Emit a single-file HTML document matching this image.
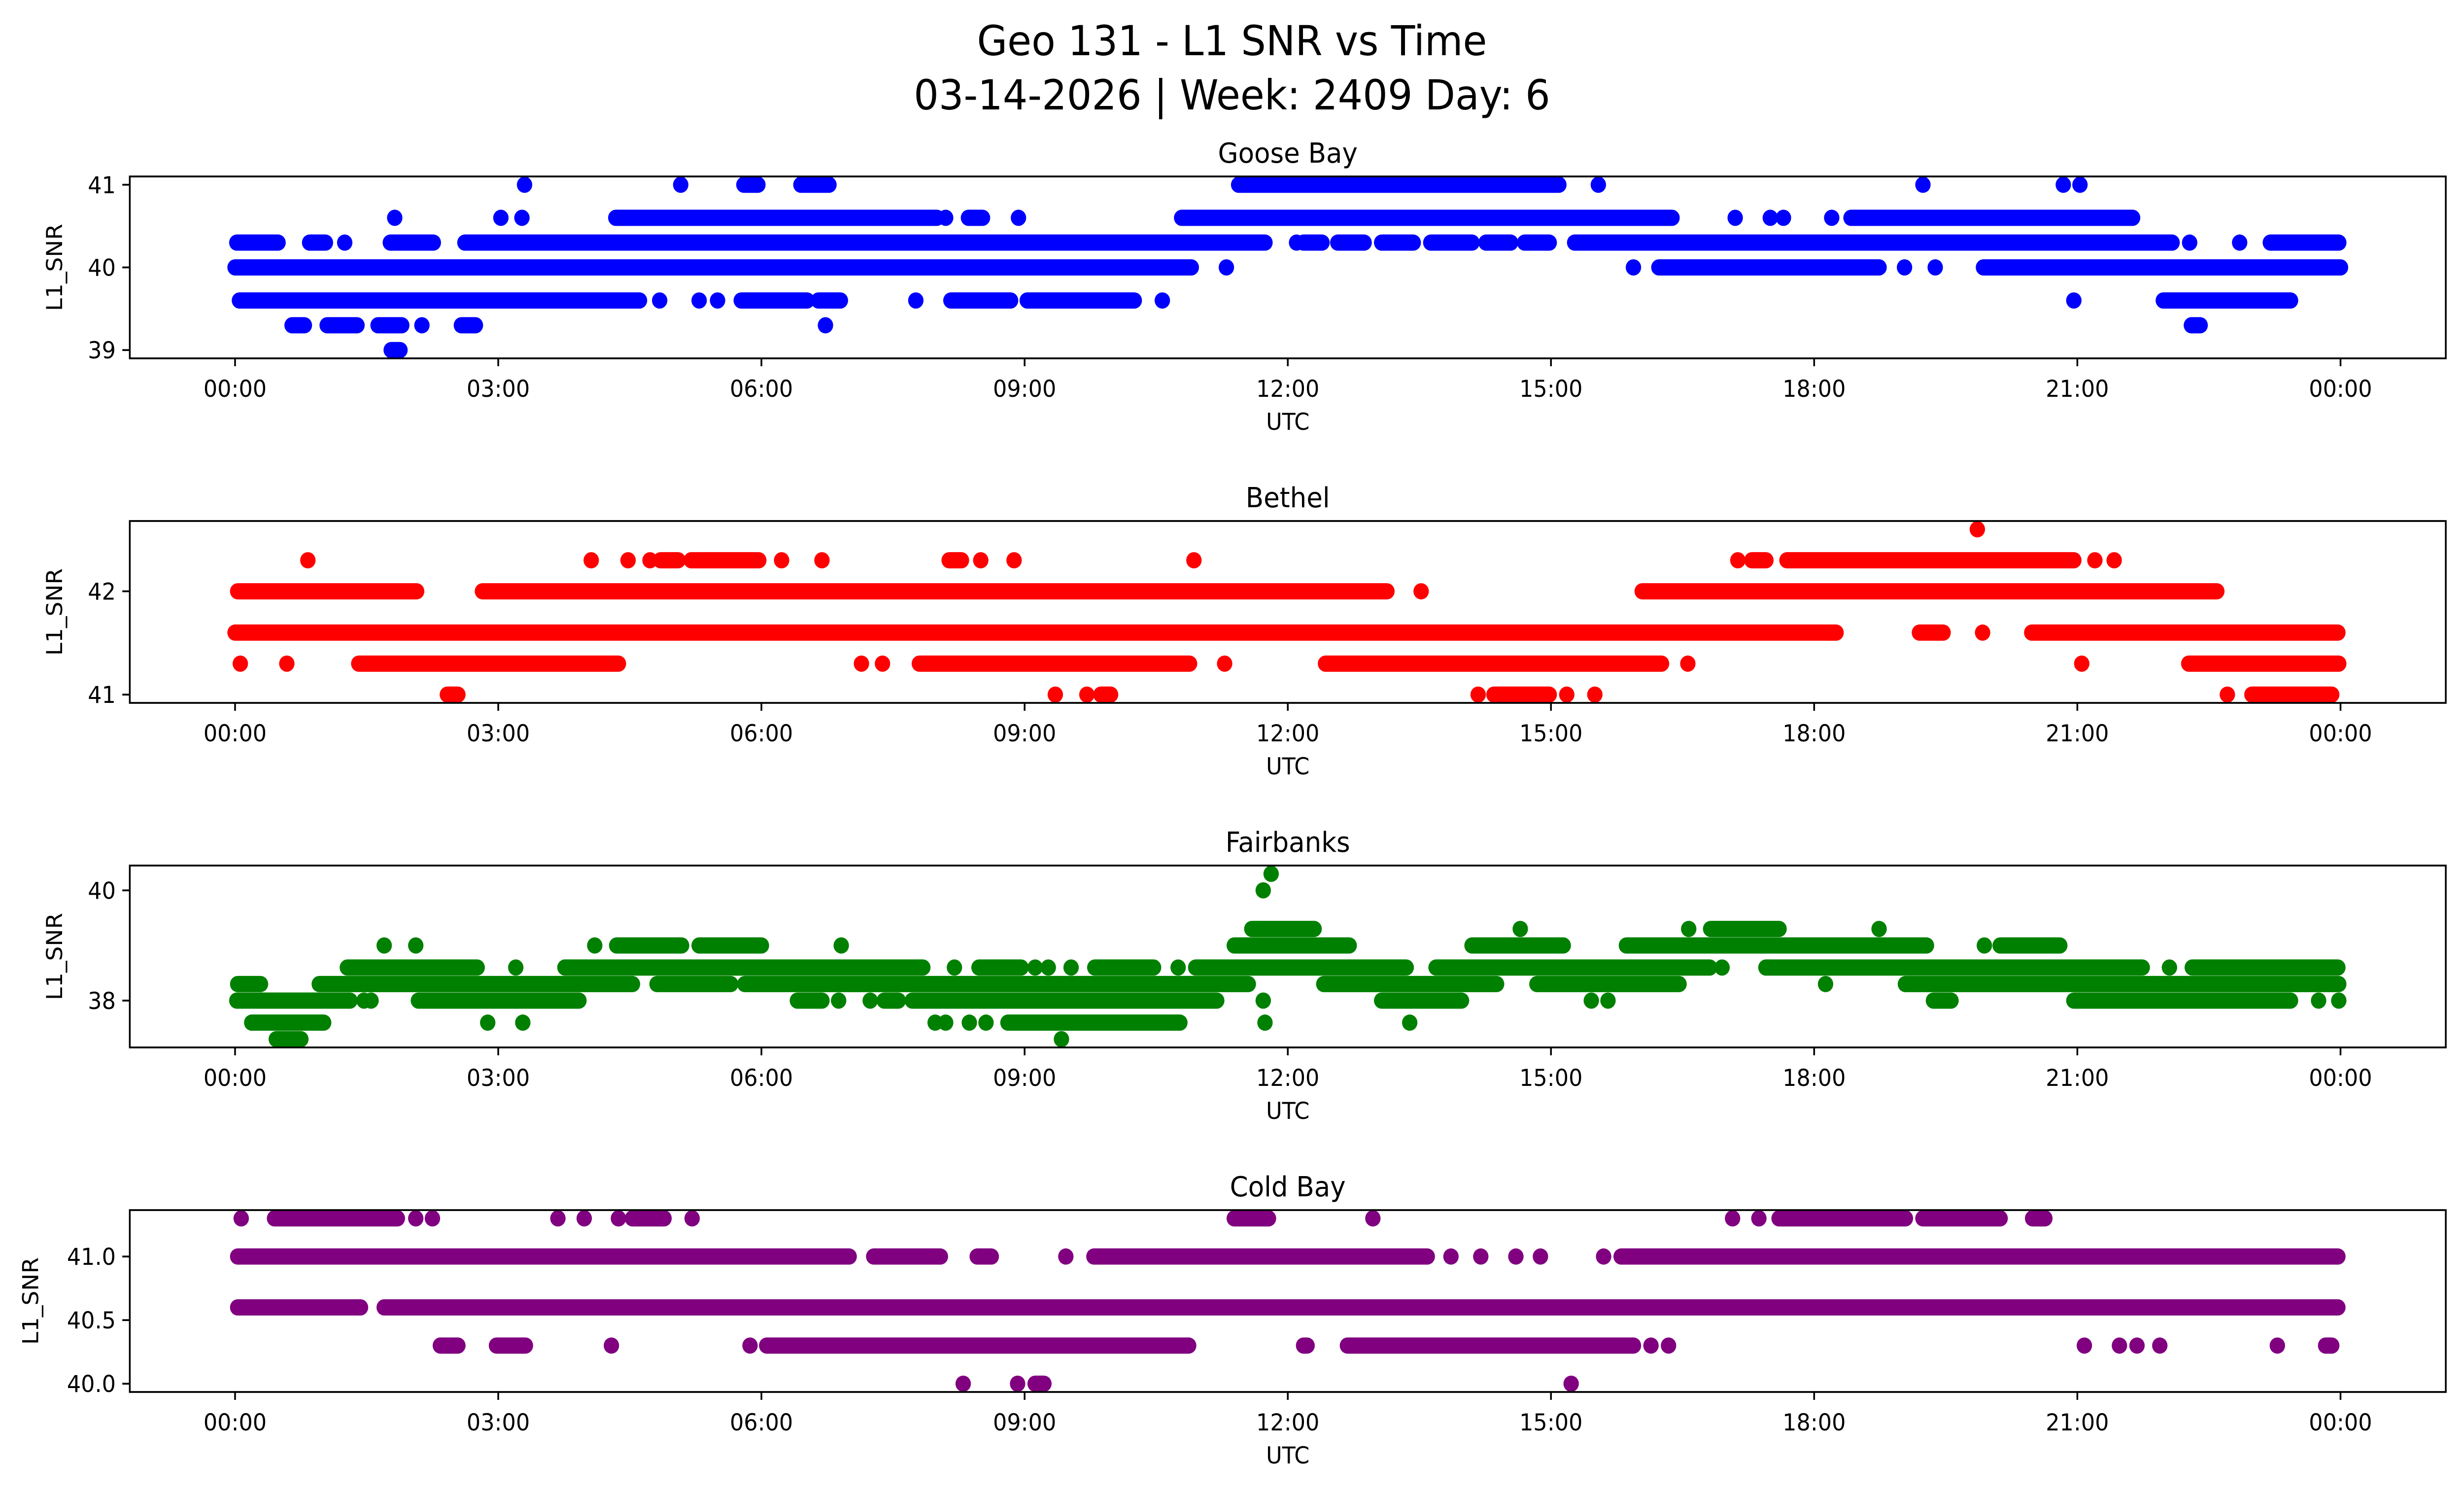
<!DOCTYPE html>
<html><head><meta charset="utf-8"><style>
html,body{margin:0;padding:0;background:#fff;width:100%;height:100%;overflow:hidden;}
svg{display:block;width:100vw;height:100vh;font-family:"DejaVu Sans","Liberation Sans",sans-serif;}
</style></head>
<body>
<svg id="chart" viewBox="0 0 5278 3033" preserveAspectRatio="none" xmlns="http://www.w3.org/2000/svg">
<rect width="5278" height="3033" fill="#fff"/>
<text x="2639" y="112" font-size="84" text-anchor="middle">Geo 131 - L1 SNR vs Time</text>
<text x="2639" y="222" font-size="84" text-anchor="middle">03-14-2026 | Week: 2409 Day: 6</text>
</svg>
<script>
const stationNames = ["Goose Bay","Bethel","Fairbanks","Cold Bay"];
const stationColors = ["#0000ff","#ff0000","#008000","#800080"];
const xTickHours = [0,3,6,9,12,15,18,21,24];
const xTickLabels = ["00:00","03:00","06:00","09:00","12:00","15:00","18:00","21:00","00:00"];
const yLimits = [[38.9,41.1],[40.92,42.68],[37.15,40.45],[39.935,41.365]];
const yTicks = [[39,40,41],[41,42],[38,40],[40.0,40.5,41.0]];
const yTickLabels = [["39","40","41"],["41","42"],["38","40"],["40.0","40.5","41.0"]];
// segments: [value, startHour, endHour]
const gooseSegs = [
[41.0,3.30,3.30],[41.0,5.08,5.08],[41.0,5.80,5.96],[41.0,6.45,6.77],[41.0,11.44,15.09],[41.0,15.54,15.54],[41.0,19.24,19.24],[41.0,20.84,20.84],[41.0,21.03,21.03],
[40.6,1.82,1.82],[40.6,3.03,3.03],[40.6,3.27,3.27],[40.6,4.34,8.0],[40.6,8.1,8.1],[40.6,8.36,8.52],[40.6,8.93,8.93],[40.6,10.79,16.38],[40.6,17.1,17.1],[40.6,17.5,17.5],[40.6,17.65,17.65],[40.6,18.2,18.2],[40.6,18.42,21.63],
[40.3,0.02,0.49],[40.3,0.85,1.03],[40.3,1.25,1.25],[40.3,1.77,2.26],[40.3,2.62,11.74],[40.3,12.1,12.1],[40.3,12.18,12.39],[40.3,12.57,12.87],[40.3,13.07,13.43],[40.3,13.63,14.1],[40.3,14.26,14.54],[40.3,14.7,14.98],[40.3,15.27,22.08],[40.3,22.28,22.28],[40.3,22.85,22.85],[40.3,23.2,23.98],
[40.0,0.0,10.9],[40.0,11.3,11.3],[40.0,15.94,15.94],[40.0,16.23,18.74],[40.0,19.03,19.03],[40.0,19.38,19.38],[40.0,19.93,24.0],
[39.6,0.05,4.61],[39.6,4.84,4.84],[39.6,5.29,5.29],[39.6,5.5,5.5],[39.6,5.77,6.52],[39.6,6.65,6.9],[39.6,7.76,7.76],[39.6,8.16,8.84],[39.6,9.03,10.25],[39.6,10.57,10.57],[39.6,20.96,20.96],[39.6,21.98,23.43],
[39.3,0.65,0.79],[39.3,1.05,1.39],[39.3,1.63,1.9],[39.3,2.13,2.13],[39.3,2.58,2.74],[39.3,6.73,6.73],[39.3,22.3,22.4],
[39.0,1.78,1.88]];
const bethelSegs = [
[42.6,19.86,19.86],
[42.3,0.83,0.83],[42.3,4.06,4.06],[42.3,4.48,4.48],[42.3,4.73,4.73],[42.3,4.85,5.05],[42.3,5.2,5.97],[42.3,6.23,6.23],[42.3,6.69,6.69],[42.3,8.14,8.28],[42.3,8.5,8.5],[42.3,8.88,8.88],[42.3,10.93,10.93],[42.3,17.13,17.13],[42.3,17.29,17.45],[42.3,17.69,20.96],[42.3,21.2,21.2],[42.3,21.42,21.42],
[42.0,0.03,2.07],[42.0,2.82,13.13],[42.0,13.52,13.52],[42.0,16.04,22.59],
[41.6,0.0,18.25],[41.6,19.2,19.47],[41.6,19.92,19.92],[41.6,20.48,23.97],
[41.3,0.06,0.06],[41.3,0.59,0.59],[41.3,1.41,4.37],[41.3,7.14,7.14],[41.3,7.38,7.38],[41.3,7.8,10.88],[41.3,11.28,11.28],[41.3,12.43,16.26],[41.3,16.56,16.56],[41.3,21.05,21.05],[41.3,22.27,23.98],
[41.0,2.42,2.54],[41.0,9.35,9.35],[41.0,9.71,9.71],[41.0,9.87,9.98],[41.0,14.17,14.17],[41.0,14.35,14.98],[41.0,15.18,15.18],[41.0,15.5,15.5],[41.0,22.71,22.71],[41.0,22.99,23.9]];
const fairbanksSegs = [
[40.3,11.81,11.81],[40.0,11.72,11.72],
[39.3,11.59,12.3],[39.3,14.65,14.65],[39.3,16.57,16.57],[39.3,16.82,17.6],[39.3,18.74,18.74],
[39.0,1.7,1.7],[39.0,2.06,2.06],[39.0,4.1,4.1],[39.0,4.35,5.09],[39.0,5.29,6.0],[39.0,6.91,6.91],[39.0,11.39,12.7],[39.0,14.1,15.14],[39.0,15.86,19.28],[39.0,19.94,19.94],[39.0,20.12,20.8],
[38.6,1.28,2.76],[38.6,3.2,3.2],[38.6,3.76,7.84],[38.6,8.2,8.2],[38.6,8.48,8.96],[38.6,9.12,9.12],[38.6,9.27,9.27],[38.6,9.53,9.53],[38.6,9.8,10.47],[38.6,10.75,10.75],[38.6,10.95,13.35],[38.6,13.69,16.81],[38.6,16.95,16.95],[38.6,17.45,21.74],[38.6,22.05,22.05],[38.6,22.31,23.97],
[38.3,0.03,0.29],[38.3,0.96,4.53],[38.3,4.81,5.65],[38.3,5.81,11.55],[38.3,12.41,14.38],[38.3,14.84,16.46],[38.3,18.13,18.13],[38.3,19.04,23.98],
[38.0,0.02,1.31],[38.0,1.47,1.47],[38.0,1.55,1.55],[38.0,2.09,3.92],[38.0,6.41,6.69],[38.0,6.88,6.88],[38.0,7.24,7.24],[38.0,7.4,7.56],[38.0,7.72,11.19],[38.0,11.72,11.72],[38.0,13.07,13.98],[38.0,15.46,15.46],[38.0,15.65,15.65],[38.0,19.36,19.56],[38.0,20.96,23.43],[38.0,23.75,23.75],[38.0,23.98,23.98],
[37.6,0.19,1.01],[37.6,2.88,2.88],[37.6,3.28,3.28],[37.6,7.98,7.98],[37.6,8.1,8.1],[37.6,8.37,8.37],[37.6,8.56,8.56],[37.6,8.81,10.77],[37.6,11.74,11.74],[37.6,13.39,13.39],
[37.3,0.47,0.75],[37.3,9.42,9.42]];
const coldBaySegs = [
[41.3,0.07,0.07],[41.3,0.45,1.85],[41.3,2.06,2.06],[41.3,2.25,2.25],[41.3,3.68,3.68],[41.3,3.98,3.98],[41.3,4.37,4.37],[41.3,4.53,4.89],[41.3,5.21,5.21],[41.3,11.39,11.78],[41.3,12.97,12.97],[41.3,17.07,17.07],[41.3,17.37,17.37],[41.3,17.6,19.04],[41.3,19.24,20.12],[41.3,20.49,20.63],
[41.0,0.03,7.0],[41.0,7.28,8.04],[41.0,8.46,8.62],[41.0,9.47,9.47],[41.0,9.79,13.59],[41.0,13.86,13.86],[41.0,14.2,14.2],[41.0,14.6,14.6],[41.0,14.88,14.88],[41.0,15.6,15.6],[41.0,15.8,23.97],
[40.6,0.03,1.43],[40.6,1.7,23.97],
[40.3,2.34,2.54],[40.3,2.98,3.31],[40.3,4.29,4.29],[40.3,5.87,5.87],[40.3,6.06,10.87],[40.3,12.18,12.22],[40.3,12.68,15.94],[40.3,16.14,16.14],[40.3,16.34,16.34],[40.3,21.08,21.08],[40.3,21.48,21.48],[40.3,21.68,21.68],[40.3,21.94,21.94],[40.3,23.28,23.28],[40.3,23.83,23.9],
[40.0,8.3,8.3],[40.0,8.92,8.92],[40.0,9.12,9.22],[40.0,15.23,15.23]];
const allSegs = [gooseSegs, bethelSegs, fairbanksSegs, coldBaySegs];

const NS = "http://www.w3.org/2000/svg";
const svg = document.getElementById("chart");
const AX_L = 278, AX_R = 5239, AX_H = 369;
const AX_TOPS = [358, 1057, 1756, 2455];
const XMIN = -1.2, XMAX = 25.2, R = 16.5;
function xPos(h){ return AX_L + (h - XMIN) / (XMAX - XMIN) * (AX_R - AX_L); }
function mk(tag, attrs, parent){ const e = document.createElementNS(NS, tag); for (const k in attrs) e.setAttribute(k, attrs[k]); (parent||svg).appendChild(e); return e; }

for (let i = 0; i < 4; i++) {
  const top = AX_TOPS[i], bot = top + AX_H;
  const lim = yLimits[i];
  const yPos = v => bot - (v - lim[0]) / (lim[1] - lim[0]) * AX_H;
  const slug = stationNames[i].toLowerCase().replace(/ /g, "-");
  const g = mk("g", {});
  
  
  const clip = mk("clipPath", {id: "clip" + i}, g);
  mk("rect", {x: AX_L, y: top, width: AX_R - AX_L, height: AX_H}, clip);
  const marks = mk("g", {"clip-path": "url(#clip" + i + ")", fill: stationColors[i], stroke: stationColors[i]}, g);
  
  
  allSegs[i].forEach(s => {
    const y = yPos(s[0]), x1 = xPos(s[1]), x2 = xPos(s[2]);
    let el;
    if (s[2] > s[1]) {
      el = mk("line", {x1: x1, y1: y, x2: x2, y2: y, "stroke-width": 2 * R, "stroke-linecap": "round"}, marks);
    } else {
      el = mk("circle", {cx: x1, cy: y, r: R, stroke: "none"}, marks);
    }
    
    
  });
  const frame = mk("rect", {x: AX_L, y: top, width: AX_R - AX_L, height: AX_H, fill: "none", stroke: "#000", "stroke-width": 3.7}, g);
  
  
  xTickHours.forEach((h, k) => {
    const x = xPos(h);
    mk("line", {x1: x, y1: bot, x2: x, y2: bot + 16, stroke: "#000", "stroke-width": 3.7}, g);
    const t = mk("text", {x: x, y: bot + 78, "font-size": 47, "text-anchor": "middle"}, g);
    t.textContent = xTickLabels[k];
    
    
  });
  yTicks[i].forEach((v, k) => {
    const y = yPos(v);
    mk("line", {x1: AX_L - 16, y1: y, x2: AX_L, y2: y, stroke: "#000", "stroke-width": 3.7}, g);
    const t = mk("text", {x: AX_L - 30, y: y + 17, "font-size": 47, "text-anchor": "end"}, g);
    t.textContent = yTickLabels[i][k];
    
    
  });
  const xl = mk("text", {x: (AX_L + AX_R) / 2, y: bot + 145, "font-size": 47, "text-anchor": "middle"}, g);
  xl.textContent = "UTC";
  
  
  const lx = (i === 3) ? 82 : 133;
  const yl = mk("text", {x: lx, y: top + AX_H / 2, "font-size": 47, "text-anchor": "middle", transform: "rotate(-90 " + lx + " " + (top + AX_H / 2) + ")"}, g);
  yl.textContent = "L1_SNR";
  
  
  const tt = mk("text", {x: (AX_L + AX_R) / 2, y: top - 28, "font-size": 56, "text-anchor": "middle"}, g);
  tt.textContent = stationNames[i];
  
  
}
</script>
</body></html>
